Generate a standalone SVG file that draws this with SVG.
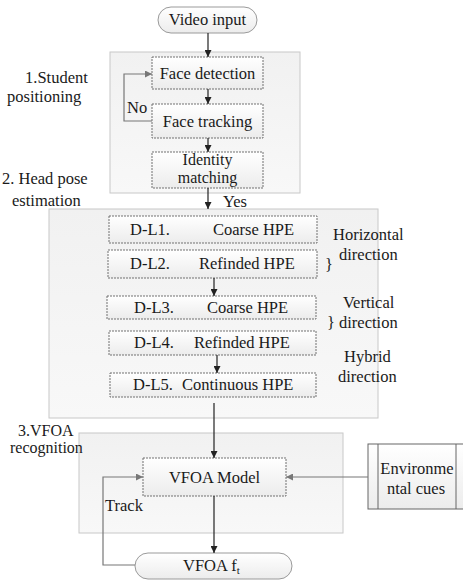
<svg xmlns="http://www.w3.org/2000/svg" width="463" height="583" viewBox="0 0 463 583" font-family="'Liberation Serif', 'Times New Roman', 'DejaVu Serif', serif">
<style>
text{font-family:'Liberation Serif','Times New Roman','DejaVu Serif',serif;font-size:16.5px;fill:#1a1a1a}
.sm{font-size:16px}
.grp{fill:url(#gg);stroke:#c8c8c8;stroke-width:1}
.box{fill:url(#bg);stroke:#707070;stroke-width:1;stroke-dasharray:2 1}
.pill{fill:url(#bg);stroke:#9a9a9a;stroke-width:1}
.ln{fill:none;stroke:#222;stroke-width:1.2}
.lg{fill:none;stroke:#777;stroke-width:1.2}
</style>
<defs>
<linearGradient id="gg" x1="0" y1="0" x2="0" y2="1"><stop offset="0" stop-color="#f1f1f1"/><stop offset="1" stop-color="#f8f8f8"/></linearGradient>
<linearGradient id="bg" x1="0" y1="0" x2="0" y2="1"><stop offset="0" stop-color="#ffffff"/><stop offset="1" stop-color="#ececec"/></linearGradient>
<marker id="ad" viewBox="0 0 10 10" refX="10" refY="5" markerWidth="7" markerHeight="7" orient="auto" markerUnits="userSpaceOnUse"><path d="M0,0L10,5L0,10z" fill="#222"/></marker>
<marker id="ag" viewBox="0 0 10 10" refX="10" refY="5" markerWidth="7" markerHeight="7" orient="auto" markerUnits="userSpaceOnUse"><path d="M0,0L10,5L0,10z" fill="#777"/></marker>
</defs>
<rect width="463" height="583" fill="#fff"/>

<g id="group1"><rect class="grp" x="110" y="52" width="190" height="141"/>
<text x="25" y="83">1.Student</text><text x="7" y="102">positioning</text></g>
<g id="group2"><rect class="grp" x="49" y="209" width="329" height="209"/>
<text x="2" y="184">2. Head pose</text><text x="12" y="206">estimation</text></g>
<g id="group3"><rect class="grp" x="79" y="433" width="264" height="100"/>
<text x="18" y="436" class="sm">3.VFOA</text><text x="10" y="453" class="sm">recognition</text></g>

<g id="video-input"><rect class="pill" x="158" y="7" width="99" height="26" rx="13"/><text x="207.5" y="25" text-anchor="middle">Video input</text></g>
<g id="face-detection"><rect class="box" x="152" y="57" width="111" height="32"/><text x="207.5" y="79" text-anchor="middle">Face detection</text></g>
<g id="face-tracking"><rect class="box" x="152" y="104" width="111" height="34"/><text x="207.5" y="127" text-anchor="middle">Face tracking</text></g>
<g id="identity-matching"><rect class="box" x="152" y="152" width="111" height="36"/><text x="207.5" y="165" text-anchor="middle" class="sm">Identity</text><text x="207.5" y="183" text-anchor="middle" class="sm">matching</text></g>

<g id="dl1"><rect class="box" x="109" y="216" width="208" height="27"/><text x="130" y="235">D-L1.</text><text x="213" y="235">Coarse HPE</text></g>
<g id="dl2"><rect class="box" x="108" y="250" width="209" height="28"/><text x="130" y="269">D-L2.</text><text x="199" y="269">Refinded HPE</text></g>
<g id="dl3"><rect class="box" x="107" y="296" width="209" height="23"/><text x="134" y="313">D-L3.</text><text x="207" y="313">Coarse HPE</text></g>
<g id="dl4"><rect class="box" x="109" y="331" width="207" height="24"/><text x="134" y="348">D-L4.</text><text x="194" y="348">Refinded HPE</text></g>
<g id="dl5"><rect class="box" x="110" y="373" width="206" height="24"/><text x="133" y="390">D-L5.</text><text x="182" y="390">Continuous HPE</text></g>

<g id="direction-labels">
<text x="333" y="240">Horizontal</text><text x="339" y="260">direction</text><text x="325" y="270">}</text>
<text x="343" y="308">Vertical</text><text x="339" y="328">direction</text><text x="327" y="328">}</text>
<text x="344" y="362">Hybrid</text><text x="338" y="382">direction</text>
</g>

<g id="vfoa-model"><rect class="box" x="143" y="458" width="143" height="38"/><text x="214.5" y="483" text-anchor="middle">VFOA Model</text></g>
<g id="environmental-cues"><rect x="368" y="444" width="100" height="65" fill="url(#bg)" stroke="#666" stroke-width="1"/>
<line x1="378" y1="444" x2="378" y2="509" stroke="#666"/><line x1="456" y1="444" x2="456" y2="509" stroke="#666"/>
<text x="417" y="474" text-anchor="middle">Environme</text><text x="416" y="494" text-anchor="middle">ntal cues</text></g>
<g id="vfoa-ft"><rect class="pill" x="135" y="553" width="157" height="26" rx="13"/><text x="183" y="571">VFOA  f<tspan font-size="11" dy="3">t</tspan></text></g>

<g id="connectors">
<line class="ln" x1="208" y1="33" x2="208" y2="57" marker-end="url(#ad)"/>
<line class="ln" x1="208" y1="89" x2="208" y2="104" marker-end="url(#ad)"/>
<line class="ln" x1="208" y1="138" x2="208" y2="152" marker-end="url(#ad)"/>
<path class="lg" d="M152,121H124V74H152" marker-end="url(#ag)"/>
<text x="127" y="113">No</text>
<line class="ln" x1="208" y1="188" x2="208" y2="209" marker-end="url(#ad)"/>
<text x="223" y="207">Yes</text>
<line class="ln" x1="214" y1="278" x2="214" y2="296" marker-end="url(#ad)"/>
<line class="ln" x1="217" y1="355" x2="217" y2="373" marker-end="url(#ad)"/>
<line class="ln" x1="214" y1="403" x2="214" y2="458" marker-end="url(#ad)"/>
<line class="lg" x1="368" y1="477" x2="286" y2="477" marker-end="url(#ag)"/>
<line class="ln" x1="214" y1="496" x2="214" y2="553" marker-end="url(#ad)"/>
<path class="lg" d="M135,565H103V477H143" marker-end="url(#ag)"/>
<text x="105" y="511">Track</text>
</g>
</svg>
